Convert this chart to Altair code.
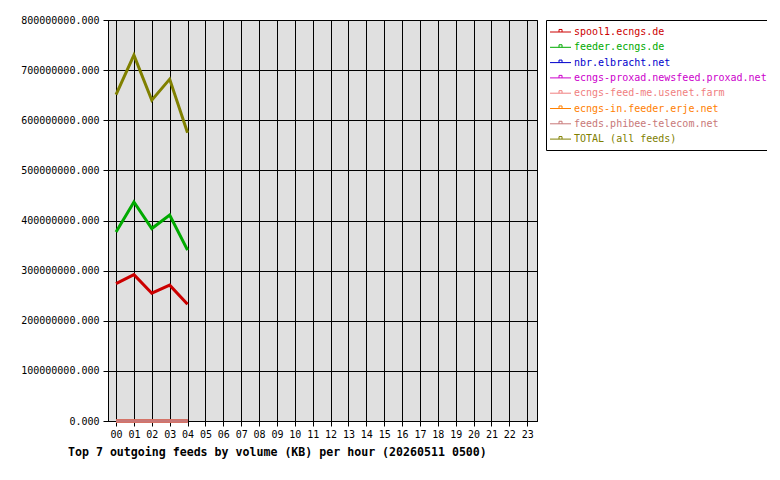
import altair as alt
import pandas as pd

FONT = "DejaVu Sans Mono"

hours = [0, 1, 2, 3, 4]
series_names = [
    "spool1.ecngs.de",
    "feeder.ecngs.de",
    "nbr.elbracht.net",
    "ecngs-proxad.newsfeed.proxad.net",
    "ecngs-feed-me.usenet.farm",
    "ecngs-in.feeder.erje.net",
    "feeds.phibee-telecom.net",
    "TOTAL (all feeds)",
]
series_colors = ["#cc0000", "#00aa00", "#0000cc", "#cc00cc",
                 "#f08080", "#ff8000", "#c87878", "#808000"]

spool1 = [274e6, 292e6, 255e6, 271e6, 233e6]
feeder = [377e6, 437e6, 384e6, 411e6, 341e6]
nbr = [0, 0, 0, 0, 0]
proxad = [0, 0, 0, 0, 0]
usenetfarm = [0, 0, 0, 0, 0]
erje = [0, 0, 0, 0, 0]
phibee = [0, 0, 0, 0, 0]
total = [651e6, 730e6, 640e6, 682e6, 575e6]

hour_ticks = list(range(24))
y_ticks = [i * 100000000 for i in range(9)]

values = [spool1, feeder, nbr, proxad, usenetfarm, erje, phibee, total]
rows = []
for name, vals in zip(series_names, values):
    for h, v in zip(hours, vals):
        rows.append({"feed": name, "hour": h, "kb": v})
df = pd.DataFrame(rows)

legend = alt.Legend(
    title=None, orient="none", legendX=438, legendY=0, direction="vertical",
    fillColor="white", strokeColor="black", padding=5.5, cornerRadius=0,
    rowPadding=3.3, labelOffset=9.5, labelFont=FONT, labelFontSize=10,
    labelLimit=400, labelColor=alt.ExprRef(expr="scale('color', datum.value)"),
    symbolType="M-1.33,0H2.17M0.17,0V-0.42H0.67V0", symbolSize=144,
    symbolStrokeWidth=1, symbolFillColor="transparent", symbolOpacity=1,
)

chart = alt.Chart(df).mark_line(strokeWidth=3, clip=False).encode(
    x=alt.X("hour:Q",
            scale=alt.Scale(domain=[-0.45, 23.55], nice=False, zero=False),
            axis=alt.Axis(values=hour_ticks, format="02d", title=None, grid=True,
                          tickSize=5, labelPadding=3, labelFlush=False,
                          labelOverlap=False)),
    y=alt.Y("kb:Q",
            scale=alt.Scale(domain=[0, 800000000], nice=False, zero=True),
            axis=alt.Axis(values=y_ticks, format=".3f", title=None, grid=True,
                          tickSize=5, labelPadding=4)),
    color=alt.Color("feed:N", sort=series_names,
                    scale=alt.Scale(domain=series_names, range=series_colors),
                    legend=legend),
).properties(
    width=429, height=401,
    autosize=alt.AutoSizeParams(type="none"),
    padding={"left": 100, "top": 12, "right": 230, "bottom": 45},
    background="white",
    title=alt.TitleParams(
        "Top 7 outgoing feeds by volume (KB) per hour (20260511 0500)",
        orient="bottom", anchor="start", frame="group", dx=-40, offset=8,
        font=FONT, fontSize=11.6, fontWeight="bold", color="black"),
).configure_view(
    fill="#e0e0e0", stroke="black", strokeWidth=1
).configure_axis(
    domainColor="black", tickColor="black", gridColor="black", gridOpacity=1,
    gridWidth=1, labelFont=FONT, labelFontSize=10, labelColor="black",
    domainWidth=1, tickWidth=1,
)

chart.save("out.html", embed_options={"renderer": "svg", "actions": False})
